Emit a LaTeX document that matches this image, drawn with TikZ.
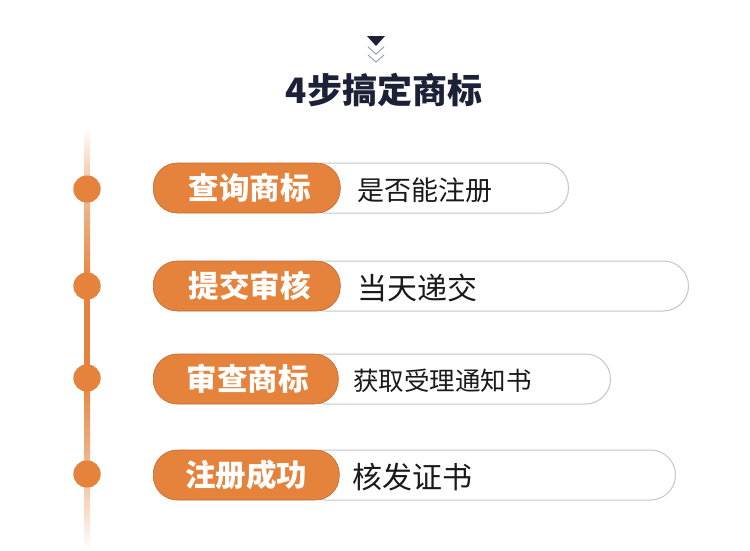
\documentclass[tikz,border=0pt]{standalone}
\usepackage{fontspec}
\newfontfamily\cjk{Noto Sans CJK SC}
\definecolor{orng}{HTML}{E5823C}
\definecolor{orngl}{HTML}{F0BE98}
\definecolor{navy}{HTML}{1C2138}
\definecolor{chev}{HTML}{8A90A6}
\definecolor{bord}{HTML}{C6C6C6}
\definecolor{txt}{HTML}{1A1A1A}
\begin{document}
\begin{tikzpicture}[x=1pt,y=-1pt,
  opill/.style={draw=orng!82!black, line width=0.6pt, fill=orng, rounded corners=24pt,
    minimum height=50pt, inner sep=0pt, text=white,
    font=\cjk\bfseries\fontsize{30.5}{30.5}\selectfont},
  wpill/.style={draw=bord, line width=1pt, fill=white, rounded corners=25pt,
    minimum height=50pt, inner sep=0pt},
  desc/.style={anchor=west, inner sep=0pt, text=txt},
  dot/.style={circle, fill=orng, minimum size=27pt, inner sep=0pt}
  ]
\useasboundingbox (0,0) rectangle (750,550);
\fill[white] (0,0) rectangle (750,550);

% chevrons
\fill[navy] (367,36) -- (385,36) -- (376,46) -- cycle;
\draw[chev, line width=0.8pt] (368,47) -- (376,54) -- (384,47);
\draw[chev, line width=0.8pt] (368,55) -- (376,62) -- (384,55);

% title
\node[text=navy, font=\cjk\bfseries\fontsize{35}{35}\selectfont] (title) at (384,90) {4步搞定商标};

% timeline dots (positions)
\node[dot] (c1) at (87,189) {};
\node[dot] (c2) at (87,286) {};
\node[dot] (c3) at (87,378) {};
\node[dot] (c4) at (87,474) {};

% timeline segments
\shade[top color=white, bottom color=orngl] ([xshift=-3pt]c1.center) ++(0,-62) rectangle ([xshift=3pt]c1.center);
\shade[top color=orngl, bottom color=orng] ([xshift=-3pt]c1.center) rectangle ([xshift=3pt]c2.center);
\fill[orng] ([xshift=-3pt]c2.center) rectangle ([xshift=3pt]c3.center);
\shade[top color=orng, bottom color=orngl] ([xshift=-3pt]c3.center) rectangle ([xshift=3pt]c4.center);
\shade[top color=orngl, bottom color=white] ([xshift=-3pt]c4.center) rectangle ([xshift=3pt,yshift=-76pt]c4.center);
\node[dot] at (c1) {};
\node[dot] at (c2) {};
\node[dot] at (c3) {};
\node[dot] at (c4) {};

% row 1
\node[wpill, anchor=west, minimum width=268pt] (w1) at (300,188) {};
\node[opill, anchor=west, minimum width=187pt] (o1) at (153,188) {\hspace{6pt}查询商标};
\node[desc, font=\cjk\fontsize{27}{27}\selectfont] (d1) at (357,190) {是否能注册};

% row 2
\node[wpill, anchor=west, minimum width=388pt] (w2) at (300,286) {};
\node[opill, anchor=west, minimum width=187pt] (o2) at (153,286) {\hspace{6pt}提交审核};
\node[desc, font=\cjk\fontsize{30}{30}\selectfont] (d2) at (357,288) {当天递交};

% row 3
\node[wpill, anchor=west, minimum width=310pt] (w3) at (300,379) {};
\node[opill, anchor=west, minimum width=185pt] (o3) at (153,379) {\hspace{4pt}审查商标};
\node[desc, font=\cjk\fontsize{25.5}{25.5}\selectfont] (d3) at (353,381) {获取受理通知书};

% row 4
\node[wpill, anchor=west, minimum width=375pt] (w4) at (300,475) {};
\node[opill, anchor=west, minimum width=186pt] (o4) at (153,475) {注册成功};
\node[desc, font=\cjk\fontsize{30}{30}\selectfont] (d4) at (352,477) {核发证书};
\end{tikzpicture}
\end{document}
